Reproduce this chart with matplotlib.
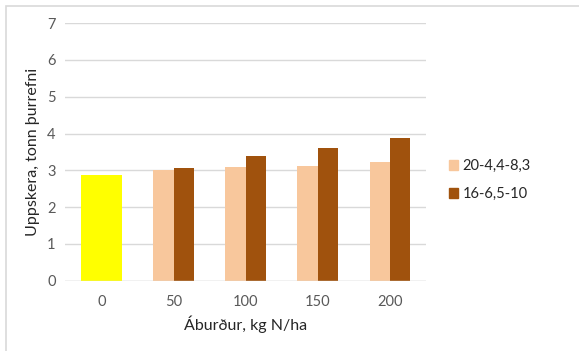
import numpy as np
import matplotlib
matplotlib.use('Agg')
import matplotlib.pyplot as plt
from matplotlib.patches import Rectangle, Patch

plt.rcParams['font.family'] = ['Lato', 'DejaVu Sans']

# Uppskera eftir áburðarmagni
categories = ['0', '50', '100', '150', '200']
control = 2.86                              # án áburðar
series_a = [3.00, 3.08, 3.13, 3.22]         # 20-4,4-8,3
series_b = [3.07, 3.38, 3.62, 3.88]         # 16-6,5-10
series_names = ['20-4,4-8,3', '16-6,5-10']

C_CTRL = '#FFFF00'
C_A = '#F8C79C'
C_B = '#A0520D'

fig = plt.figure(figsize=(5.79, 3.51), dpi=100)
ax = fig.add_axes([0.1128, 0.2003, 0.623, 0.7336])

# ramminn utan um myndina
fig.patches.append(Rectangle((6 / 579, -1), 2, 2 - 6 / 351, transform=fig.transFigure,
                             fill=False, ec='#d9d9d9', lw=1.2))

w = 0.283
x = np.arange(len(categories))
ax.bar(x[0], control, width=2 * w, color=C_CTRL, zorder=3)
ax.bar(x[1:] - w / 2, series_a, width=w, color=C_A, zorder=3)
ax.bar(x[1:] + w / 2, series_b, width=w, color=C_B, zorder=3)

ax.set_xlim(-0.5, 4.5)
ax.set_ylim(0, 7)
ax.set_yticks(range(8))
ax.set_xticks(x)
ax.set_xticklabels(categories)
ax.yaxis.grid(True, color='#d9d9d9', lw=1.0, zorder=0)
ax.tick_params(length=0, labelsize=10.5, colors='#595959', pad=7)
ax.tick_params(axis='x', pad=10)
for s in ax.spines.values():
    s.set_visible(False)
ax.axhline(0, color='#d9d9d9', lw=1.0, zorder=4)

ax.set_xlabel('Áburður, kg N/ha', fontsize=11.5, color='#262626', labelpad=5)
ax.set_ylabel('Uppskera, tonn þurrefni', fontsize=11.5, color='#262626', labelpad=5)

handles = [Patch(color=C_A), Patch(color=C_B)]
fig.legend(handles, series_names, loc='center left', bbox_to_anchor=(0.752, 0.487),
           frameon=False, fontsize=10.5, handlelength=0.65, handleheight=0.65,
           handletextpad=0.3, labelspacing=1.0, labelcolor='#262626')

fig.savefig('out.png', dpi=100)
